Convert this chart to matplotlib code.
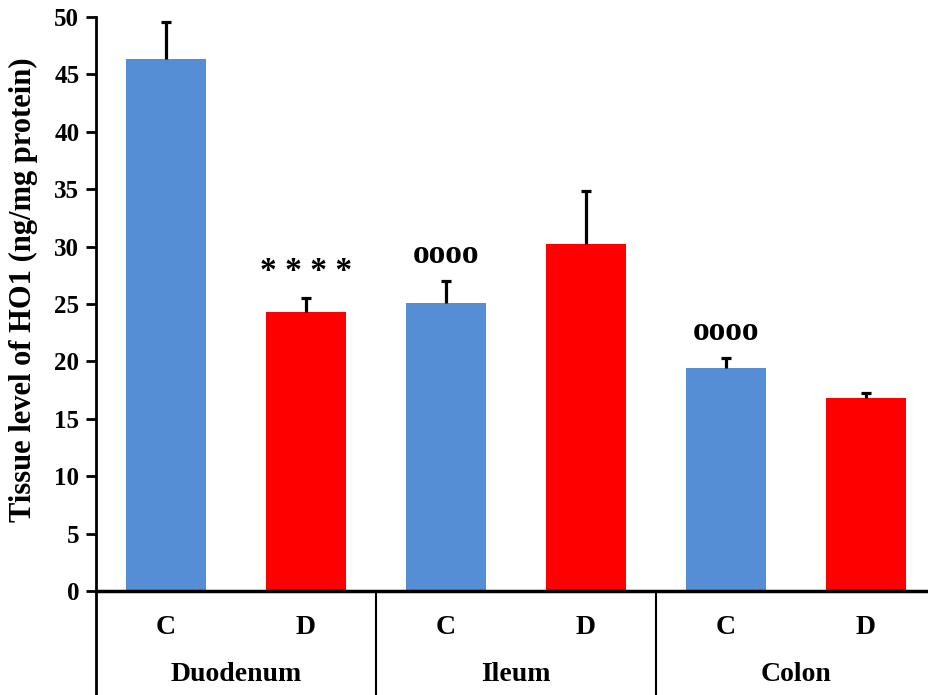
import matplotlib
matplotlib.use('Agg')
import matplotlib.pyplot as plt
import matplotlib.transforms as mtransforms
import numpy as np

# values
groups = ['Duodenum', 'Ileum', 'Colon']
subs = ['C', 'D', 'C', 'D', 'C', 'D']
means = [46.3, 24.3, 25.1, 30.2, 19.4, 16.8]
errs = [3.3, 1.2, 1.9, 4.6, 0.9, 0.45]
marks = ['', '* * * *', 'oooo', '', 'oooo', '']
colors = ['#558ED5', '#FF0000'] * 3

plt.rcParams['font.family'] = 'Liberation Serif'
plt.rcParams['font.weight'] = 'bold'

fig = plt.figure(figsize=(9.29, 6.95), dpi=100)
ax = fig.add_axes([96 / 929, 104 / 695, 840 / 929, 574 / 695])

x = np.arange(len(means))
ax.bar(x, means, width=0.57, color=colors, zorder=2)
eb = ax.errorbar(x, means, yerr=[np.zeros(len(errs)), errs], fmt='none',
                 ecolor='black', elinewidth=2.3, capsize=3.8, capthick=2.3,
                 zorder=3)
# only the upper cap, like the original
eb[1][0].set_visible(False)

for xi, m, e, t in zip(x, means, errs, marks):
    if t:
        ax.text(xi, m + e + 2.3, t, ha='center', va='center',
                fontsize=24, fontweight='bold')

ax.set_xlim(-0.5, 5.5)
ax.set_ylim(0, 50)
ax.set_yticks(np.arange(0, 51, 5))
ax.set_xticks([])
ax.tick_params(axis='y', direction='out', length=7, width=2, labelsize=18, pad=5)
for lbl in ax.get_yticklabels():
    lbl.set_fontweight('bold')
ax.spines['top'].set_visible(False)
ax.spines['right'].set_visible(False)
ax.spines['left'].set_linewidth(2)
ax.spines['bottom'].set_linewidth(2.5)

ax.set_ylabel('Tissue level of HO1 (ng/mg protein)', fontsize=22,
              fontweight='bold')
ax.yaxis.set_label_coords(-0.069, 0.525)

trans = mtransforms.blended_transform_factory(ax.transData, ax.transAxes)
for xi, s in zip(x, subs):
    ax.text(xi, -0.063, s, transform=trans, ha='center', va='center',
            fontsize=20, fontweight='bold')
for gi, g in enumerate(groups):
    ax.text(2 * gi + 0.5, -0.146, g, transform=trans, ha='center', va='center',
            fontsize=20, fontweight='bold')
for sep in [-0.5, 1.5, 3.5]:
    ax.plot([sep, sep], [0, -0.19], transform=trans, color='black',
            lw=2 if sep < 0 else 1.5, clip_on=False)

fig.savefig('out.png', dpi=100)
